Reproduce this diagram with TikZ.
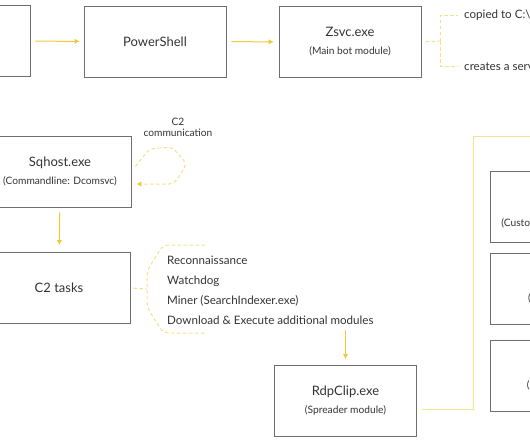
\documentclass[tikz,border=0pt]{standalone}
\usepackage{fontspec}
\setmainfont{Lato}
\usetikzlibrary{arrows.meta}
\definecolor{boxgray}{HTML}{6E6E6E}
\definecolor{txtgray}{HTML}{333333}
\definecolor{flowyellow}{HTML}{F3C833}
\definecolor{paleyellow}{HTML}{F5E08A}
\definecolor{frameyellow}{HTML}{F2E492}
\newcommand\subfont{\fontsize{10.2}{12}\selectfont}

\begin{document}
\begin{tikzpicture}[x=1pt,y=-1pt,
    module/.style ={rectangle, draw=boxgray, line width=0.9pt, minimum width=142pt,
      minimum height=71pt, inner sep=0pt, align=center, text=txtgray,
      font=\fontsize{13}{18}\selectfont},
    note/.style ={anchor=west, inner sep=0pt, text=txtgray, font=\fontsize{11.6}{13}\selectfont},
    flow/.style ={flowyellow, line width=1pt, -{Latex[length=5pt,width=5.5pt]}},
    tie/.style ={paleyellow, line width=1pt, dash pattern=on 3.5pt off 2.5pt}]
   \useasboundingbox (0,0) rectangle (530,442);

   \node[module] (loader)     at (-41,41)    {};
   \node[module] (powershell) at (155,41.5)  {PowerShell};
   \node[module] (zsvc)       at (350,42)    {Zsvc.exe\\{\subfont (Main bot module)}};
   \node[note]   (copied)     at (464,15)    {copied to C:\textbackslash Windows};
   \node[note]   (service)    at (464,66)    {creates a service};
   \coordinate   (zfork)      at (440,41);

   \node[module] (sqhost)     at (60,171.5)  {Sqhost.exe\\{\subfont (Commandline: Dcomsvc)}};
   \node[align=center, inner sep=0pt, text=txtgray, font=\fontsize{10.2}{11.5}\selectfont]
                 (c2label)    at (178,127.5) {C2\\communication};

   \node[module] (tasks)      at (59,288)    {C2 tasks};
   \coordinate   (brace)      at (147,289);
   \node[note]   (recon)      at (167,260)   {Reconnaissance};
   \node[note]   (watchdog)   at (167,281)   {Watchdog};
   \node[note]   (miner)      at (167,301)   {Miner (SearchIndexer.exe)};
   \node[note]   (download)   at (167,320)   {Download \& Execute additional modules};

   \node[module] (rdpclip)    at (345.5,401) {RdpClip.exe\\{\subfont (Spreader module)}};
   \coordinate   (framebl)    at (473,409);
   \coordinate   (frametl)    at (473,136);
   \coordinate   (framer)     at (545,136);

   \node[module] (miwalk)     at (561,206.5) {};
   \node[module] (sshmod)     at (561,288.5) {};
   \node[module] (smbmod)     at (561,375.5) {};
   \node[text=txtgray, font=\fontsize{13}{15}\selectfont] (miwalkname) at (562,208) {Miwalk.exe};
   \node[text=txtgray, font=\subfont] (miwalkdesc) at (561,223) {(Custom Mimikatz module)};
   \node[text=txtgray, font=\subfont] (sshdesc)    at (561,298) {(SSH spreader)};
   \node[text=txtgray, font=\subfont] (smbdesc)    at (561,385) {(SMB spreader)};

   % main flow
   \draw[flow, shorten <=5pt, shorten >=4pt] (loader) to (powershell);
   \draw[flow, shorten <=5pt, shorten >=5pt] (powershell) to (zsvc);
   \draw[flow, shorten <=5pt, shorten >=7pt] (sqhost) to (tasks);
   \draw[flow, shorten <=5pt, shorten >=6pt] (download.south -| rdpclip.north) to (rdpclip.north);

   % zsvc actions
   \draw[tie, shorten <=4pt] (zsvc.east) to (zfork);
   \draw[tie, shorten >=6pt] (zfork) |- (copied.west);
   \draw[tie, shorten >=6pt] (zfork) |- (service.west);

   % C2 loop
   \draw[tie, rounded corners=5pt, -{Latex[length=5pt,width=5.5pt,color=flowyellow]}]
     ([xshift=4pt,yshift=5pt]sqhost.east) -- (149,149) -- (172,147) -- (187,164)
     -- (174,184) -- ([xshift=5pt,yshift=-12.5pt]sqhost.east);

   % task list
   \draw[tie, shorten <=3pt] (tasks.east) to (brace);
   \draw[tie, rounded corners=6pt] (205,245) -- (163,245) -- (147,271) -- (147,307)
     -- (163,333) -- (205,333);

   % spreader
   \draw[frameyellow, line width=1pt] ([xshift=5pt,yshift=-8pt]rdpclip.east) -- (framebl)
     -- (frametl) -- (framer);
 \end{tikzpicture}
\end{document}
